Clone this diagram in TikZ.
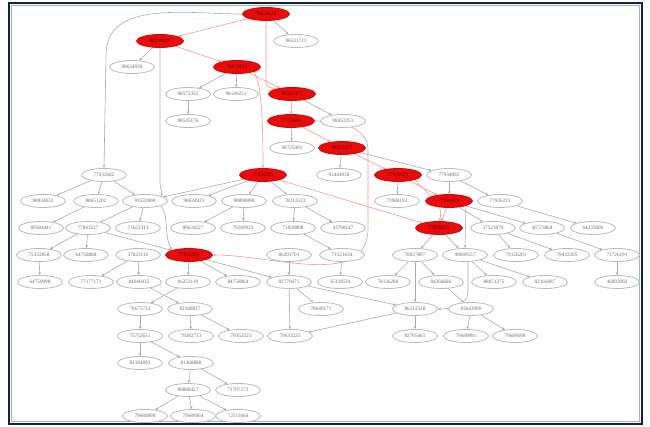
\documentclass[tikz,border=0pt]{standalone}
\usepackage{fontspec}
\setmainfont{Liberation Serif}
\usepackage{tikz}
\usetikzlibrary{arrows.meta,shapes.geometric,backgrounds}
\usepackage{xcolor}
\definecolor{vtxgray}{RGB}{185,185,185}
\definecolor{txtgray}{RGB}{110,110,110}
\definecolor{edgegray}{RGB}{170,170,170}
\definecolor{hotred}{RGB}{232,12,12}
\definecolor{hotedge}{RGB}{242,150,150}
\definecolor{framenavy}{RGB}{22,32,58}
\definecolor{framesky}{RGB}{140,182,222}

\begin{document}
\begin{tikzpicture}[x=1pt,y=1pt,
  vtx/.style={draw=vtxgray,ellipse,line width=0.8pt,minimum width=45pt,minimum height=13pt,
              inner sep=0pt,fill=white,text=txtgray,font=\fontsize{5.2}{6}\selectfont},
  hot/.style={vtx,draw=hotred!85!black,fill=hotred,text=red!40!black,minimum width=47pt},
  arr/.style={-{Stealth[length=3pt,width=2.6pt]},draw=edgegray,line width=0.6pt},
  hotarr/.style={-{Stealth[length=3pt,width=2.6pt]},draw=hotedge,line width=0.6pt}
]
\useasboundingbox (0,0) rectangle (650,-427);

% frame
\draw[framenavy,line width=2.4pt] (9,-3) rectangle (642,-424);
\draw[framesky,line width=1.1pt] (11.6,-5.6) rectangle (639.4,-421.4);

% red chain
\node[hot] (R1)  at (266,-14)  {78639622};
\node[hot] (R2)  at (160,-41)  {98148437};
\node[hot] (R3)  at (237,-67)  {78632012};
\node[hot] (R4)  at (292,-94)  {98537477};
\node[hot] (R5)  at (291,-121) {77739605};
\node[hot] (R6)  at (342,-148) {98452277};
\node[hot] (R7)  at (263,-175) {77936783};
\node[hot] (R8)  at (398,-175) {77939671};
\node[hot] (R9)  at (449,-201) {77939428};
\node[hot] (R10) at (439,-228) {77938231};
\node[hot] (R11) at (189,-255) {77932826};

% upper part
\node[vtx] (a1) at (296,-41)  {98531721};
\node[vtx] (b1) at (132,-67)  {98634938};
\node[vtx] (c1) at (188,-94)  {98572352};
\node[vtx] (c2) at (236,-94)  {98149251};
\node[vtx] (d1) at (188,-121) {98535176};
\node[vtx] (d2) at (343,-121) {98452251};
\node[vtx] (e1) at (292,-148) {98725305};
\node[vtx] (f1) at (104,-175) {77932682};
\node[vtx] (f2) at (339,-175) {93444938};
\node[vtx] (f3) at (449,-175) {77934092};

\node[vtx] (g1) at (43,-201)  {98934032};
\node[vtx] (g2) at (96,-201)  {98651202};
\node[vtx] (g3) at (145,-201) {93533908};
\node[vtx] (g4) at (194,-201) {98634925};
\node[vtx] (g5) at (244,-201) {98898998};
\node[vtx] (g6) at (295,-201) {78212523};
\node[vtx] (g7) at (397,-201) {73988193};
\node[vtx] (g8) at (500,-201) {77936225};

\node[vtx] (h1)  at (41,-228)  {89584441};
\node[vtx] (h2)  at (88,-228)  {77843527};
\node[vtx] (h3)  at (138,-228) {71622313};
\node[vtx] (h4)  at (193,-228) {89634527};
\node[vtx] (h5)  at (243,-228) {79289923};
\node[vtx] (h6)  at (293,-228) {71939898};
\node[vtx] (h7)  at (343,-228) {43798147};
\node[vtx] (h8)  at (493,-228) {37523879};
\node[vtx] (h9)  at (542,-228) {40723868};
\node[vtx] (h10) at (593,-228) {64233009};

% lower part
\node[vtx] (i1)  at (39,-255)  {75332858};
\node[vtx] (i2)  at (86,-255)  {64758888};
\node[vtx] (i3)  at (138,-255) {37821116};
\node[vtx] (i4)  at (289,-255) {86291701};
\node[vtx] (i5)  at (342,-255) {71521634};
\node[vtx] (i6)  at (415,-255) {78027897};
\node[vtx] (i7)  at (465,-255) {90049537};
\node[vtx] (i8)  at (516,-255) {79126201};
\node[vtx] (i9)  at (567,-255) {79432205};
\node[vtx] (i10) at (617,-255) {71726191};

\node[vtx] (j1)  at (40,-282)  {64759098};
\node[vtx] (j2)  at (91,-282)  {77177171};
\node[vtx] (j3)  at (139,-282) {84046035};
\node[vtx] (j4)  at (188,-282) {86253119};
\node[vtx] (j5)  at (238,-282) {84758864};
\node[vtx] (j6)  at (289,-282) {82770671};
\node[vtx] (j7)  at (340,-282) {35329534};
\node[vtx] (j8)  at (388,-282) {78136288};
\node[vtx] (j9)  at (441,-282) {84368686};
\node[vtx] (j10) at (494,-282) {88871375};
\node[vtx] (j11) at (545,-282) {82166087};
\node[vtx] (j12) at (617,-282) {46893002};

\node[vtx] (k1) at (140,-309) {78675722};
\node[vtx] (k2) at (190,-309) {82188837};
\node[vtx] (k3) at (321,-309) {78640171};
\node[vtx] (k4) at (415,-309) {86212528};
\node[vtx] (k5) at (471,-309) {83642099};

\node[vtx] (l1) at (140,-336) {75752651};
\node[vtx] (l2) at (191,-336) {79282713};
\node[vtx] (l3) at (241,-336) {79352525};
\node[vtx] (l4) at (290,-336) {79633225};
\node[vtx] (l5) at (415,-336) {82705461};
\node[vtx] (l6) at (466,-336) {79689991};
\node[vtx] (l7) at (515,-336) {79689698};

\node[vtx] (m1) at (140,-363) {82184893};
\node[vtx] (m2) at (191,-363) {81368888};
\node[vtx] (n1) at (188,-390) {80888427};
\node[vtx] (n2) at (238,-390) {71707273};
\node[vtx] (o1) at (145,-416) {79688898};
\node[vtx] (o2) at (193,-416) {79689364};
\node[vtx] (o3) at (238,-416) {72511664};

\coordinate (lbend) at (106,-55);
\coordinate (rtop) at (368,-150);
\coordinate (rbot) at (368,-228);

\begin{scope}[on background layer]
% red edges
\draw[hotarr] (R1) -- (R2);
\draw[hotarr] (R1.south) -- ++(0,-62) to[out=-90,in=160] (R4.north west);
\draw[hotarr] (R2) -- (R3);
\draw[hotarr] (R3) -- (R4);
\draw[hotarr] (R3.south east) .. controls +(8,-10) and +(0,40) .. (R7.north);
\draw[hotarr] (R4) -- (R5);
\draw[hotarr] (R5) -- (R6);
\draw[hotarr] (R5.east) to[out=0,in=90] (rtop) -- (rbot) to[out=-90,in=0] (R11.east);
\draw[hotarr] (R6) -- (R8);
\draw[hotarr] (R7) -- (R10);
\draw[hotarr] (R8) -- (R9);
\draw[hotarr] (R9) -- (R10);
\draw[hotarr] (R8.south east) to[out=-50,in=70] (R10.north);

% gray edges
\draw[arr] (R1) -- (a1);
\draw[arr] (R1.west) to[out=180,in=90] (lbend) -- (f1.north);
\draw[arr] (R2) -- (b1);
\draw[arr] (R2.south) -- ++(0,-135) to[out=-90,in=75] (g3.north east);
\draw[arr] (R3) -- (c1);
\draw[arr] (R3) -- (c2);
\draw[arr] (c1) -- (d1);
\draw[arr] (R4) -- (d2);
\draw[arr] (R5) -- (e1);
\draw[arr] (R6) -- (f2);
\draw[arr] (R6) -- (f3);
\draw[arr] (R8) -- (g7);
\draw[arr] (f3) -- (R9);
\draw[arr] (f3) -- (g8);

\draw[arr] (f1) -- (g1);
\draw[arr] (f1) -- (g2);
\draw[arr] (f1) -- (g3);
\draw[arr] (R7) -- (g3);
\draw[arr] (R7) -- (g4);
\draw[arr] (R7) -- (g5);
\draw[arr] (R7) -- (g6);

\draw[arr] (g2) -- (h1);
\draw[arr] (g3) -- (h2);
\draw[arr] (g3) -- (h3);
\draw[arr] (g3.south east) to[out=-60,in=120] (R11.north west);
\draw[arr] (g5) -- (h4);
\draw[arr] (g5) -- (h5);
\draw[arr] (g6) -- (h6);
\draw[arr] (g6) -- (h7);
\draw[arr] (R9) -- (h8);
\draw[arr] (R9) -- (h9);
\draw[arr] (g8) -- (h10);

\draw[arr] (h2) -- (i1);
\draw[arr] (h2) -- (i2);
\draw[arr] (h2) -- (R11);
\draw[arr] (h6) -- (i5);
\draw[arr] (R10) -- (i6);
\draw[arr] (R10) -- (i7);
\draw[arr] (R9.south east) -- (i7.north);
\draw[arr] (h8) -- (i8);
\draw[arr] (h8) -- (i9);
\draw[arr] (h9) -- (i10);

\draw[arr] (i1) -- (j1);
\draw[arr] (i3) -- (j2);
\draw[arr] (i3) -- (j3);
\draw[arr] (R11) -- (j4);
\draw[arr] (R11) -- (j5);
\draw[arr] (R11) -- (j6);
\draw[arr] (i4) -- (j6);
\draw[arr] (i5) -- (j7);
\draw[arr] (i6) -- (j8);
\draw[arr] (i6) -- (j9);
\draw[arr] (i7) -- (j10);
\draw[arr] (i7) -- (j11);
\draw[arr] (i10) -- (j12);

\draw[arr] (j4) -- (k1);
\draw[arr] (j3) -- (k2);
\draw[arr] (j6) -- (k3);
\draw[arr] (j6) -- (k4);
\draw[arr] (i6) -- (k4);
\draw[arr] ([xshift=3pt]i7.south) -- ++(0,-30) to[out=-90,in=0] (k4.east);
\draw[arr] (j9) -- (k5);

\draw[arr] (k1) -- (l1);
\draw[arr] (k2) -- (l2);
\draw[arr] (k2) -- (l3);
\draw[arr] (j6) -- (l4);
\draw[arr] (k4) -- (l4);
\draw[arr] (k4) -- (l5);
\draw[arr] (k5) -- (l6);
\draw[arr] (k5) -- (l7);

\draw[arr] (l1) -- (m1);
\draw[arr] (l1) -- (m2);
\draw[arr] (m2) -- (n1);
\draw[arr] (m2) -- (n2);
\draw[arr] (n1) -- (o1);
\draw[arr] (n1) -- (o2);
\draw[arr] (n1) -- (o3);
\end{scope}

\end{tikzpicture}
\end{document}
